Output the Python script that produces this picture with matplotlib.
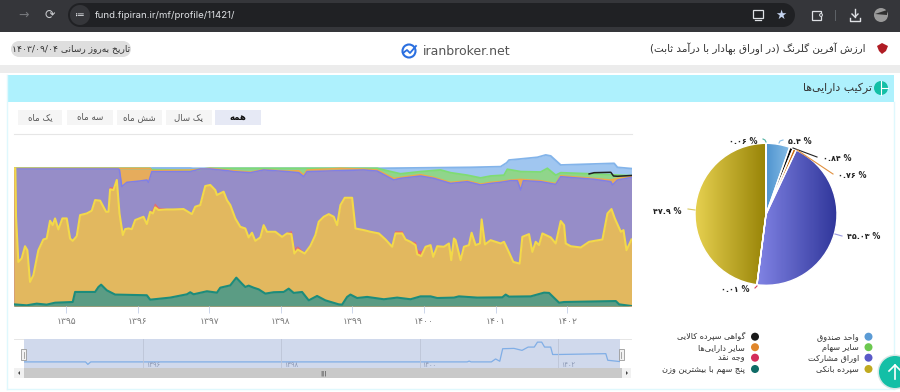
import re
import numpy as np
import matplotlib
matplotlib.use("Agg")
import matplotlib.pyplot as plt
from matplotlib.colors import LinearSegmentedColormap
from matplotlib.patches import FancyBboxPatch, Rectangle, Circle, Polygon

plt.rcParams['font.family'] = ['DejaVu Sans']

# ---------- data: t is a sample counter, 214.5 samples per Persian year, 198 = start of 1395 ----------
yellow_t = [42,46,48,55,65,75,82,90,100,115,130,140,150,158,165,175,187,200,210,218,230,240,260,275,285,300,318,325,330,340,350,358,368,375,385,395,405,430,440,450,458,465,475,500,520,550,575,585,600,615,630,645,
            650,670,680,690,705,720,735,745,755,765,780,790,800,825,845,860,873,882,892,913,930,945,955,970,985,1000,1010,1020,1033,1055,1065,1090,1110,1135,1155,1175,1185,1205,1215,1230,1245,1250,1262,
            1275,1290,1298,1310,1330,1345,1352,1360,1365,1380,1390,1405,1413,1425,1438,1443,1453,1470,1500,1510,1522,1538,1557,1565,1585,1595,1605,1615,1625,1650,1665,1680,1690,1695,1710,1740,1765,1805,1820,1832,1842,1860,1868,1877,1892]
yellow_top = [100,100,65,32,34.5,43.4,40.5,17.5,22.3,40.5,48.3,49,61.9,58.7,63.6,55.6,63.6,63.6,49,47.3,50.7,66,67.2,69.2,76.9,76.5,68.4,68.4,84.7,84.2,91.5,67.2,51.5,55.8,56.3,55.8,62.4,64.8,59.5,68.4,67.2,71.6,69.7,70.1,70.1,70.4,66.7,72.1,73.3,87.1,87.9,84.2,
              80.6,83,76.9,73.3,63.6,57.5,56.3,49.8,53.2,47.3,49.8,58.7,53.9,53.9,50.2,52.7,52.2,38.1,41,38.1,43.7,51.5,61.2,64.8,66.7,64.8,58.7,73.3,78.6,78.6,56.3,55.1,53.9,52.7,48.3,43,52.7,52.7,48.3,46.6,44.2,37.6,36.2,
              43,44.2,35.7,43.4,43,45.4,33.3,49,47.8,33.3,43,44.2,53.2,44.2,45.4,62.9,44.7,47.8,45.4,46.6,40.5,32,30.8,50.2,52.2,39.3,46.6,44.2,52.7,49.8,45.4,61.7,58.7,45.4,43.4,42.5,46.6,48.3,67.2,70.4,63.6,53.9,55.1,40.5,48.3]
cash_blip_t = [330,340,458,465,475,873,882,892,1185,1205,1245,1250,1262,1352,1380]
cash_blip = [1.5,1.5,2.5,2.5,1.5,2,3,2,1.5,1.5,2,3,3,1,1.5]

teal_t = [42,80,110,140,165,218,225,285,295,303,320,345,440,450,510,560,570,580,620,650,660,690,708,725,735,745,760,775,795,820,850,865,880,905,925,950,975,1015,1025,1040,1050,1070,1100,1150,1190,1230,1260,1290,1310,1360,1375,1430,1505,1515,1525,1590,1630,1645,1675,1690,1845,1855,1892]
teal_top = [1.2,0.5,1.7,1,2.4,2.9,10.2,10.2,13.8,15.5,11.4,8.3,7.8,4.6,6.1,8.5,10,8.5,10.7,9.7,13.3,15,20.6,16.2,13.8,14.8,13.3,12.1,9,10,10.2,12.6,9.5,10.2,4.1,7.3,4.1,1.2,1,6.6,8.3,5.8,6.6,4.9,6.1,4.9,7,7,5.8,6.1,7,6.1,6.3,8.3,6.8,7,9.7,9.5,2.4,2.9,3.6,1.2,0]

purple_t = [42,355,358,365,380,420,440,445,455,570,600,630,680,700,750,790,860,895,910,920,1090,1130,1180,1200,1260,1300,1350,1400,1440,1470,1500,1530,1550,1560,1568,1620,1665,1680,1780,1830,1835,1850,1892]
purple_top = [99.5,99.5,98.8,86.7,89.8,90.8,91.5,89.8,97.6,97.6,99.5,99.5,98.3,97.6,96.8,98.8,97.6,96.8,93.9,97.6,98.8,98,91.5,92.7,94.4,92.7,89,90.3,87.9,89,89.8,91,91,84.2,91,90.3,88.3,93.9,92,90.3,87.9,91.5,93.4]

orange_t = [42,355,450,455,570,630,700,750,790,860,895,910,920,1020,1090,1130,1180,1200,1260,1300,1350,1400,1440,1470,1500,1530,1560,1620,1665,1680,1780,1830,1850,1892]
orange_top = [100,100,100,98.3,98.8,100,98.3,97.3,99,98,98.3,95.1,98.8,100,99.5,98.8,92.7,93.4,95.4,93.4,89.8,91,88.6,89.8,90.5,91.5,92,91,89,94.6,92.7,91.5,92.7,94.2]

green_t = [42,450,455,570,630,1130,1150,1200,1260,1320,1350,1400,1440,1470,1510,1520,1560,1620,1640,1665,1680,1780,1892]
green_top = [100,100,99,98.6,100,100,98.8,96,97.6,98.8,96.8,95,93,94.4,95,99.3,97.6,97.3,100,95,96.8,95.9,94.6]

black_t = [1765,1780,1830,1838,1850,1892]
black_top = [95.9,96.8,97.1,94.4,94.2,94.8]

blue_t = [42,450,455,570,578,630,1130,1410,1500,1518,1525,1560,1610,1635,1650,1680,1840,1850,1892]
blue_top = [100,100,100.2,100.2,100,100,100,100.7,101.2,104,106,106.8,108,109.7,109,102.4,103.6,100.7,99.8]

nav_t = [42,234,241,250,1418,1424,1430,1493,1506,1519,1528,1563,1588,1607,1626,1636,1649,1658,1677,1683,1702,1848,1854,1892]
nav_fund = [0,0,-1.5,0,0,0.5,0,0,1.8,0.4,8,8.2,7,9,9,12,12,9,9,4.5,4.5,5,1,0.2]

year_ticks = [1395,1396,1397,1398,1399,1400,1401,1402]
nav_ticks = [1396,1398,1400,1402]

pie_labels = ["واحد صندوق","گواهی سپرده کالایی","سایر دارایی‌ها","اوراق مشارکت","وجه نقد","سپرده بانکی","پنج سهم با بیشترین وزن"]
pie_values = [5.4,0.84,0.76,45.03,0.01,47.9,0.06]
pie_text = ["۵.۴ %","۰.۸۴ %","۰.۷۶ %","۴۵.۰۳ %","۰.۰۱ %","۴۷.۹ %","۰.۰۶ %"]
pie_grad = [("#4f94cf","#86bce6"),("#333333","#000000"),("#f09a3a","#c96a10"),("#8083e4","#30369a"),("#e0305f","#c02050"),("#e6d04f","#988408"),("#1c8a80","#0f6b66")]

legend_right = [("واحد صندوق","#5b9bd5"),("سایر سهام","#6cc850"),("اوراق مشارکت","#5a5ac8"),("سپرده بانکی","#c0aa20")]
legend_left = [("گواهی سپرده کالایی","#1a1a1a"),("سایر دارایی‌ها","#e0862a"),("وجه نقد","#d42d5a"),("پنج سهم با بیشترین وزن","#0f6b66")]
range_tabs = ["یک ماه","سه ماه","شش ماه","یک سال","همه"]

# ---------- Persian shaping (matplotlib draws letters one by one, left to right) ----------
def _r(a, n=4):
    return tuple(chr(a + k) for k in range(n))
FORMS = {'ا':_r(0xFE8D,2),'آ':_r(0xFE81,2),'ب':_r(0xFE8F),'پ':_r(0xFB56),'ت':_r(0xFE95),'ث':_r(0xFE99),'ج':_r(0xFE9D),
         'چ':_r(0xFB7A),'ح':_r(0xFEA1),'خ':_r(0xFEA5),'د':_r(0xFEA9,2),'ذ':_r(0xFEAB,2),'ر':_r(0xFEAD,2),'ز':_r(0xFEAF,2),
         'ژ':_r(0xFB8A,2),'س':_r(0xFEB1),'ش':_r(0xFEB5),'ص':_r(0xFEB9),'ض':_r(0xFEBD),'ط':_r(0xFEC1),'ظ':_r(0xFEC5),
         'ع':_r(0xFEC9),'غ':_r(0xFECD),'ف':_r(0xFED1),'ق':_r(0xFED5),'ک':_r(0xFB8E),'گ':_r(0xFB92),'ل':_r(0xFEDD),
         'م':_r(0xFEE1),'ن':_r(0xFEE5),'و':_r(0xFEED,2),'ه':_r(0xFEE9),'ی':_r(0xFBFC)}
MIRROR = {'(':')',')':'('}

def fa(s):
    out, i = [], 0
    while i < len(s):
        c = s[i]
        if c not in FORMS:
            if c != '\u200c':
                out.append(c)
            i += 1
            continue
        prev = s[i-1] if i else ''
        nxt = s[i+1] if i + 1 < len(s) else ''
        jp = prev in FORMS and len(FORMS[prev]) == 4
        if c == 'ل' and nxt in ('ا', 'آ') and nxt:
            lig = {'ا':(0xFEFB,0xFEFC),'آ':(0xFEF5,0xFEF6)}[nxt]
            out.append(chr(lig[1] if jp else lig[0]))
            i += 2
            continue
        f = FORMS[c]
        jn = len(f) == 4 and nxt in FORMS
        out.append(f[3] if jp and jn else f[1] if jp else f[2] if jn else f[0])
        i += 1
    toks = re.findall(r'[۰-۹0-9./]+|.', ''.join(out))
    return ''.join(MIRROR.get(t, t) for t in reversed(toks))

def persian(n):
    return ''.join('۰۱۲۳۴۵۶۷۸۹'[int(d)] for d in str(n))

def years(t):
    return 1395 + (np.asarray(t, float) - 198) / 214.5

W, H = 900, 392
fig = plt.figure(figsize=(W/100, H/100), dpi=100, facecolor='white')

def px_axes(x0, y0, x1, y1, **kw):
    return fig.add_axes([x0/W, 1 - y1/H, (x1-x0)/W, (y1-y0)/H], **kw)

# ---------- page furniture (pixel canvas) ----------
bg = px_axes(0, 0, W, H, zorder=0)
bg.set_xlim(0, W); bg.set_ylim(H, 0); bg.axis('off')
bg.add_patch(Rectangle((0, 0), W, 32, fc='#35363a', ec='none'))
bg.add_patch(Rectangle((80, 3), 717-14, 24, fc='#202124', ec='none'))
bg.add_patch(Circle((80, 15), 12, fc='#202124', ec='none'))
bg.add_patch(Circle((80, 15), 10, fc='#35363a', ec='none'))
bg.add_patch(Circle((783, 15), 12, fc='#202124', ec='none'))
bg.text(95, 15, "fund.fipiran.ir/mf/profile/11421/", color='#dfe1e5', fontsize=6.95, va='center', ha='left', family='Inter')
chrome = '#dfe1e5'
bg.text(24, 15, '→', color='#75777b', fontsize=9, ha='center', va='center')
bg.text(50, 15, '⟳', color='#c8cacd', fontsize=9, ha='center', va='center')
bg.text(80, 15, '≔', color=chrome, fontsize=7, ha='center', va='center')
bg.text(781, 15, '★', color='#c5d4f0', fontsize=9, ha='center', va='center')
# monitor, extension and download icons
bg.add_patch(Rectangle((752.5, 10), 10, 8, fc='none', ec=chrome, lw=0.9))
bg.plot([755, 761], [20, 20], color=chrome, lw=0.9)
bg.add_patch(Rectangle((812, 11), 9, 8.5, fc='none', ec=chrome, lw=0.9))
bg.add_patch(Circle((821, 15), 1.4, fc='#35363a', ec=chrome, lw=0.7))
bg.plot([855, 855], [9, 17], color=chrome, lw=1)
bg.plot([852, 855, 858], [14, 17, 14], color=chrome, lw=1)
bg.plot([850, 850, 860, 860], [18, 20.5, 20.5, 18], color=chrome, lw=1)
bg.plot([835, 835], [10, 20], color='#5f6368', lw=0.7)
bg.add_patch(Circle((881, 15), 7, fc='#9a9a9a', ec='none'))
bg.add_patch(Polygon([[875, 14], [887, 10], [887, 15]], fc='#303030', ec='none'))

bg.add_patch(Rectangle((0, 65), W, 8, fc='#ececec', ec='none'))
bg.add_patch(Rectangle((19, 41), 104, 16, fc='#dedede', ec='none'))
bg.add_patch(Circle((19, 49), 8, fc='#dedede', ec='none'))
bg.add_patch(Circle((123, 49), 8, fc='#dedede', ec='none'))
bg.text(71, 49, fa("تاریخ به‌روز رسانی ۱۴۰۳/۰۹/۰۴"), fontsize=6.6, color='#333333', ha='center', va='center')
bg.add_patch(Circle((409, 51), 6.5, fc='none', ec='#2a6fe0', lw=1.5))
bg.plot([403, 407, 410, 416], [53, 50, 53, 46], color='#2a6fe0', lw=1.3)
bg.text(423, 51, "iranbroker.net", fontsize=9, color='#555555', ha='left', va='center', family='DejaVu Sans')
bg.text(866, 49, fa("ارزش آفرین گلرنگ (در اوراق بهادار با درآمد ثابت)"), fontsize=7.5, color='#333333', ha='right', va='center')
bg.add_patch(Polygon([[877, 46], [882, 43], [888, 46], [886, 51], [882, 54], [879, 51]], fc='#b01c24', ec='none'))

bg.add_patch(Rectangle((7, 75), 887, 27, fc='#aef1fd', ec='none'))
bg.plot([6.5, 6.5], [75, 389], color='#dff8fd', lw=1)
bg.plot([893.5, 893.5], [102, 389], color='#dff8fd', lw=1)
bg.plot([6.5, 893.5], [389, 389], color='#dff8fd', lw=1)
bg.add_patch(Circle((881, 88), 7, fc='#13bfa6', ec='none'))
bg.plot([881, 881], [81, 95], color='white', lw=0.8)
bg.plot([881, 888], [88, 88], color='white', lw=0.8)
bg.text(872, 88, fa("ترکیب دارایی‌ها"), fontsize=7.8, color='#333333', ha='right', va='center')

for (x0, x1), name in zip([(18, 62), (67, 113), (117, 162), (166, 212), (215, 261)], range_tabs):
    active = name == range_tabs[-1]
    bg.add_patch(Rectangle((x0, 110), x1 - x0, 15, fc='#e6e9f5' if active else '#f5f5f5', ec='none'))
    bg.text((x0 + x1)/2, 117.5, fa(name), fontsize=6.2, color='#111111' if active else '#555555', ha='center', va='center',
            fontweight='bold' if active else 'normal')

# ---------- stacked areas ----------
ax = px_axes(14, 134, 631.5, 306, zorder=2)
ax.patch.set_alpha(0)
xmin, xmax = years(42), years(1892)
ax.set_xlim(xmin, xmax)
ax.set_ylim(0, 124.9)

cash_lookup = dict(zip(cash_blip_t, cash_blip))
red_top = [v + cash_lookup.get(t, 0.1) for t, v in zip(yellow_t, yellow_top)]

layers = [
    (blue_t, blue_top, '#a0c6f0', '#83b4ea', 1.3),
    (green_t, green_top, '#90d58b', '#7fdc72', 1.3),
    (orange_t, orange_top, '#e6ac5c', '#f0a848', 1.0),
    (purple_t, purple_top, '#968dc8', '#7f7fe8', 1.1),
    (yellow_t, red_top, '#ea6a6a', '#ea6a6a', 0.5),
    (yellow_t, yellow_top, '#e2b85f', '#f2d94a', 1.5),
    (teal_t, teal_top, '#5b9c84', '#1c8c7c', 1.5),
]
for t, top, fc, lc, lw in layers:
    ax.fill_between(years(t), top, 0, color=fc, lw=0)
    ax.plot(years(t), top, color=lc, lw=lw, solid_joinstyle='round')
ax.plot(years(black_t), black_top, color='#222222', lw=1.1)

for s in ('left', 'right', 'bottom'):
    ax.spines[s].set_visible(False)
ax.spines['top'].set_color('#e6e6e6')
ax.spines['top'].set_linewidth(0.8)
ax.set_yticks([])
ax.set_xticks(year_ticks)
ax.set_xticklabels([persian(y) for y in year_ticks], fontsize=6.6, color='#777777')
ax.tick_params(axis='x', length=5, width=0.7, color='#ccd6eb', pad=3)

# ---------- navigator ----------
nav = px_axes(23.7, 339, 620, 368, zorder=2)
nav.set_facecolor('#d0d9ec')
nav.set_xlim(xmin, xmax)
nav.set_ylim(-3.7, 13.9)
nav.plot(years(nav_t), nav_fund, color='#80aee6', lw=0.9)
for y in nav_ticks:
    nav.axvline(y, color='#bcc4d6', lw=0.6)
    nav.text(y + 0.04, -1.9, persian(y), fontsize=4.8, color='#8b98b5', ha='left', va='center')
nav.set_xticks([]); nav.set_yticks([])
for s in nav.spines.values():
    s.set_visible(False)
bg.plot([14, 631], [339, 339], color='#e6e6e6', lw=0.7)
bg.add_patch(Rectangle((14, 368), 617, 10, fc='#f1f1f1', ec='none'))
bg.add_patch(Rectangle((24, 368), 598, 10, fc='#c9c9c9', ec='none'))
bg.text(323, 373, "|||", fontsize=4.5, color='#444444', ha='center', va='center')
bg.add_patch(Polygon([[20, 371], [20, 375], [18, 373]], fc='#444444', ec='none'))
bg.add_patch(Polygon([[626, 371], [626, 375], [628, 373]], fc='#444444', ec='none'))
over = px_axes(0, 0, W, H, zorder=3)
over.set_xlim(0, W); over.set_ylim(H, 0); over.axis('off')
for x in (23.7, 621):
    over.add_patch(Rectangle((x - 2.5, 349), 5, 11, fc='#f2f2f2', ec='#999999', lw=0.6))
    over.plot([x, x], [351.5, 357.5], color='#999999', lw=0.6)

# ---------- pie ----------
cx, cy, R = 766, 214.3, 71
pie = px_axes(cx - R - 2, cy - R - 2, cx + R + 2, cy + R + 2, zorder=2)
wedges, _ = pie.pie(pie_values, startangle=90, counterclock=False, radius=R,
                    wedgeprops=dict(edgecolor='white', linewidth=1.0, facecolor='none'))
grad = np.linspace(0, 1, 64).reshape(1, -1)
for w, (c0, c1) in zip(wedges, pie_grad):
    e = w.get_path().get_extents()
    im = pie.imshow(grad, extent=[e.x0, e.x1, e.y0, e.y1], aspect='auto', zorder=0,
                    cmap=LinearSegmentedColormap.from_list('g', [c0, c1]))
    im.set_clip_path(w)
pie.set_xlim(-R - 2, R + 2); pie.set_ylim(-R - 2, R + 2)
pie.axis('off')

leaders = [
    ([779, 780, 783], [143, 141, 140], '#8cc0e8', (800, 141)),
    ([793, 817], [148, 157], '#222222', (837, 158)),
    ([797, 833], [150, 174], '#e09040', (852, 175)),
    ([835, 842], [234, 236], '#9a9ae0', (864, 236)),
    ([757, 755], [286, 288], '#d04060', (735, 290)),
    ([695, 688], [210, 209], '#d8c860', (667, 211)),
    ([766, 765, 763], [142, 140, 139], '#50b0a0', (743, 141)),
]
for (lx, ly, col, pos), label in zip(leaders, pie_text):
    over.plot(lx, ly, color=col, lw=0.8)
    over.text(pos[0], pos[1], label, fontsize=5.8, fontweight='bold', color='#222222', ha='center', va='center')

# ---------- legend ----------
legend_y = [336.7, 347.2, 357.7, 369]
for items, dot_x, text_x in [(legend_right, 868.5, 859), (legend_left, 755, 745)]:
    for (name, col), y in zip(items, legend_y):
        over.add_patch(Circle((dot_x, y), 4, fc=col, ec='none'))
        over.text(text_x, y, fa(name), fontsize=5.9, color='#333333', ha='right', va='center')

# ---------- scroll-to-top button ----------
over.add_patch(Circle((895, 372), 17.5, fc='#d8e8e6', ec='none'))
over.add_patch(Circle((895, 372), 16, fc='#13bfa6', ec='none'))
over.plot([895, 895], [365, 379], color='white', lw=1.2)
over.plot([889, 895, 901], [371, 365, 371], color='white', lw=1.2)

fig.savefig('out.png', dpi=100)
